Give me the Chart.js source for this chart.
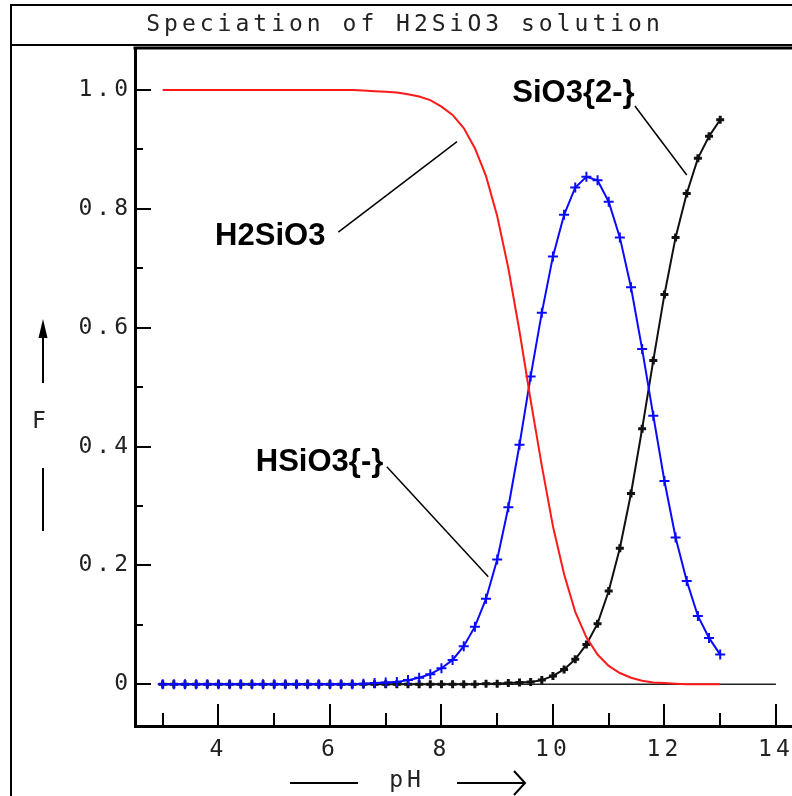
<!DOCTYPE html>
<html>
<head>
<meta charset="utf-8">
<title>Speciation of H2SiO3 solution</title>
<script src="https://cdn.jsdelivr.net/npm/chart.js@4.4.1/dist/chart.umd.min.js"></script>
<style>
  html, body { margin: 0; padding: 0; background: #fff; overflow: hidden; }
  #wrap { width: 810px; height: 796px; }
</style>
</head>
<body>
<div id="wrap"><canvas id="chart" width="810" height="796"></canvas></div>
<script>
"use strict";

// pH grid of the calculation
const pH = [
  3.0, 3.2, 3.4, 3.6, 3.8, 4.0, 4.2, 4.4, 4.6, 4.8,
  5.0, 5.2, 5.4, 5.6, 5.8, 6.0, 6.2, 6.4, 6.6, 6.8,
  7.0, 7.2, 7.4, 7.6, 7.8, 8.0, 8.2, 8.4, 8.6, 8.8,
  9.0, 9.2, 9.4, 9.6, 9.8, 10.0, 10.2, 10.4, 10.6, 10.8,
  11.0, 11.2, 11.4, 11.6, 11.8, 12.0, 12.2, 12.4, 12.6, 12.8,
  13.0
];

// fractions
const fH2SiO3 = [
  1.000, 1.000, 1.000, 1.000, 1.000, 1.000, 1.000, 1.000, 1.000, 1.000,
  1.000, 1.000, 1.000, 1.000, 1.000, 1.000, 1.000, 1.000, 0.999, 0.998,
  0.997, 0.996, 0.993, 0.989, 0.983, 0.972, 0.958, 0.936, 0.902, 0.855,
  0.788, 0.700, 0.594, 0.478, 0.368, 0.266, 0.185, 0.122, 0.079, 0.050,
  0.031, 0.019, 0.011, 0.006, 0.003, 0.002, 0.001, 0.000, 0.000, 0.000,
  0.000
];
const fHSiO3 = [
  0.000, 0.000, 0.000, 0.000, 0.000, 0.000, 0.000, 0.000, 0.000, 0.000,
  0.000, 0.000, 0.000, 0.000, 0.000, 0.000, 0.000, 0.000, 0.001, 0.002,
  0.003, 0.004, 0.007, 0.011, 0.017, 0.027, 0.041, 0.064, 0.097, 0.144,
  0.210, 0.298, 0.403, 0.518, 0.625, 0.720, 0.790, 0.836, 0.854, 0.848,
  0.812, 0.752, 0.668, 0.564, 0.452, 0.342, 0.247, 0.174, 0.115, 0.078,
  0.050
];
const fSiO3 = [
  0.000, 0.000, 0.000, 0.000, 0.000, 0.000, 0.000, 0.000, 0.000, 0.000,
  0.000, 0.000, 0.000, 0.000, 0.000, 0.000, 0.000, 0.000, 0.000, 0.000,
  0.000, 0.000, 0.000, 0.000, 0.000, 0.000, 0.000, 0.000, 0.000, 0.001,
  0.001, 0.002, 0.003, 0.004, 0.007, 0.014, 0.025, 0.042, 0.067, 0.102,
  0.157, 0.229, 0.321, 0.430, 0.545, 0.656, 0.752, 0.826, 0.885, 0.922,
  0.950
];

// zero line along the bottom
const zeroX = [3, 14];
const zeroY = [0, 0];

// species labels with leader lines (data units)
const annotations = [
  { text: 'H2SiO3',   at: [3.94, 0.739], from: [6.15, 0.761], to: [8.28, 0.913] },
  { text: 'SiO3{2-}', at: [9.27, 0.979], from: [11.47, 0.973], to: [12.40, 0.857] },
  { text: 'HSiO3{-}', at: [4.67, 0.359], from: [7.02, 0.366], to: [8.84, 0.181] }
];

const monoFont = '"DejaVu Sans Mono", "Liberation Mono", monospace';
const toXY = (xs, ys) => xs.map((x, i) => ({ x: x, y: ys[i] }));

const framePlugin = {
  id: 'frame',
  beforeDraw(chart) {
    // old plotting program spreads its mono labels out
    chart.ctx.letterSpacing = '4px';
  },
  afterDatasetsDraw(chart) {
    const { ctx, scales: { x, y } } = chart;
    ctx.save();
    ctx.letterSpacing = '0px';
    ctx.fillStyle = '#000';
    ctx.strokeStyle = '#000';
    ctx.lineWidth = 1.5;
    ctx.font = 'bold 31px "Liberation Sans", Arial, sans-serif';
    ctx.textBaseline = 'alphabetic';
    ctx.textAlign = 'left';
    annotations.forEach(a => {
      ctx.fillText(a.text, x.getPixelForValue(a.at[0]), y.getPixelForValue(a.at[1]));
      ctx.beginPath();
      ctx.moveTo(x.getPixelForValue(a.from[0]), y.getPixelForValue(a.from[1]));
      ctx.lineTo(x.getPixelForValue(a.to[0]), y.getPixelForValue(a.to[1]));
      ctx.stroke();
    });
    ctx.restore();
  },
  afterDraw(chart) {
    const { ctx, chartArea: area, scales: { x, y } } = chart;
    ctx.save();
    ctx.strokeStyle = '#000';
    ctx.fillStyle = '#222';

    // inward tick marks
    ctx.lineWidth = 2;
    x.ticks.forEach(t => {
      const px = Math.round(x.getPixelForValue(t.value));
      const len = Math.round(t.value) % 2 === 0 ? 22 : 13;
      ctx.beginPath();
      ctx.moveTo(px, area.bottom);
      ctx.lineTo(px, area.bottom - len);
      ctx.stroke();
    });
    y.ticks.forEach(t => {
      const py = Math.round(y.getPixelForValue(t.value));
      const len = Math.round(t.value * 10) % 2 === 0 ? 16 : 8;
      ctx.beginPath();
      ctx.moveTo(area.left, py);
      ctx.lineTo(area.left + len, py);
      ctx.stroke();
    });

    // frame round title and plot
    ctx.lineWidth = 2;
    ctx.beginPath();
    ctx.moveTo(11, 796); ctx.lineTo(11, 5); ctx.lineTo(chart.width, 5);
    ctx.moveTo(11, 45); ctx.lineTo(chart.width, 45);
    ctx.stroke();
    ctx.lineWidth = 3;
    ctx.beginPath();
    ctx.moveTo(area.left - 1.5, area.top); ctx.lineTo(chart.width, area.top);
    ctx.stroke();

    // axis names with arrows
    ctx.font = '23px ' + monoFont;
    ctx.textAlign = 'center';
    ctx.textBaseline = 'middle';
    ctx.letterSpacing = '4px';
    ctx.fillText('F', 41, 422);
    ctx.fillText('pH', 407, 781);
    ctx.lineWidth = 2;
    ctx.beginPath();
    ctx.moveTo(43, 334); ctx.lineTo(43, 383);
    ctx.moveTo(43, 468); ctx.lineTo(43, 531);
    ctx.moveTo(290, 783); ctx.lineTo(358, 783);
    ctx.moveTo(457, 783); ctx.lineTo(525, 783);
    ctx.moveTo(514, 771); ctx.lineTo(525, 783); ctx.lineTo(514, 795);
    ctx.stroke();
    ctx.fillStyle = '#000';
    ctx.beginPath();
    ctx.moveTo(43, 319); ctx.lineTo(47.5, 338); ctx.lineTo(38.5, 338);
    ctx.closePath();
    ctx.fill();
    ctx.restore();
  }
};

new Chart(document.getElementById('chart'), {
  type: 'line',
  data: {
    datasets: [
      {
        label: 'H2SiO3',
        data: toXY(pH, fH2SiO3),
        borderColor: '#ff1a1a',
        borderWidth: 2,
        pointRadius: 0,
        order: 1
      },
      {
        label: 'HSiO3{-}',
        data: toXY(pH, fHSiO3),
        borderColor: '#0a0aff',
        borderWidth: 2,
        pointStyle: 'cross',
        pointRadius: 5,
        pointBorderWidth: 2,
        order: 2
      },
      {
        label: 'SiO3{2-}',
        data: toXY(pH, fSiO3),
        borderColor: '#111',
        borderWidth: 2,
        pointStyle: 'cross',
        pointRadius: 4,
        pointBorderWidth: 3,
        order: 3
      },
      {
        label: 'zero',
        data: toXY(zeroX, zeroY),
        borderColor: '#222',
        borderWidth: 1.5,
        pointRadius: 0,
        order: 4
      }
    ]
  },
  options: {
    responsive: false,
    animation: false,
    devicePixelRatio: 1,
    events: [],
    layout: { padding: 0, autoPadding: false },
    plugins: {
      legend: { display: false },
      tooltip: { enabled: false },
      title: {
        display: true,
        text: 'Speciation of H2SiO3 solution',
        color: '#222',
        font: { family: monoFont, size: 23, weight: 'normal', lineHeight: 1 },
        padding: { top: 14, bottom: 11 }
      }
    },
    scales: {
      x: {
        type: 'linear',
        min: 2.503,
        max: 14.611,
        afterFit: s => { s.height = 70; s.paddingLeft = 0; s.paddingRight = 0; },
        grid: { display: false, drawTicks: false },
        border: { display: true, color: '#000', width: 3 },
        ticks: {
          stepSize: 1,
          includeBounds: false,
          autoSkip: false,
          maxRotation: 0,
          padding: 10,
          color: '#222',
          font: { family: monoFont, size: 23 },
          callback: v => (Math.round(v) % 2 === 0 ? String(Math.round(v)) : '')
        }
      },
      y: {
        type: 'linear',
        min: -0.0702,
        max: 1.0707,
        afterFit: s => { s.width = 135; s.paddingTop = 0; s.paddingBottom = 0; },
        grid: { display: false, drawTicks: false },
        border: { display: true, color: '#000', width: 3 },
        ticks: {
          stepSize: 0.1,
          includeBounds: false,
          autoSkip: false,
          padding: 3,
          color: '#222',
          font: { family: monoFont, size: 23 },
          callback: v => {
            const k = Math.round(v * 10);
            if (k % 2 !== 0) return '';
            return k === 0 ? '0' : (k / 10).toFixed(1);
          }
        }
      }
    }
  },
  plugins: [framePlugin]
});
</script>
</body>
</html>
